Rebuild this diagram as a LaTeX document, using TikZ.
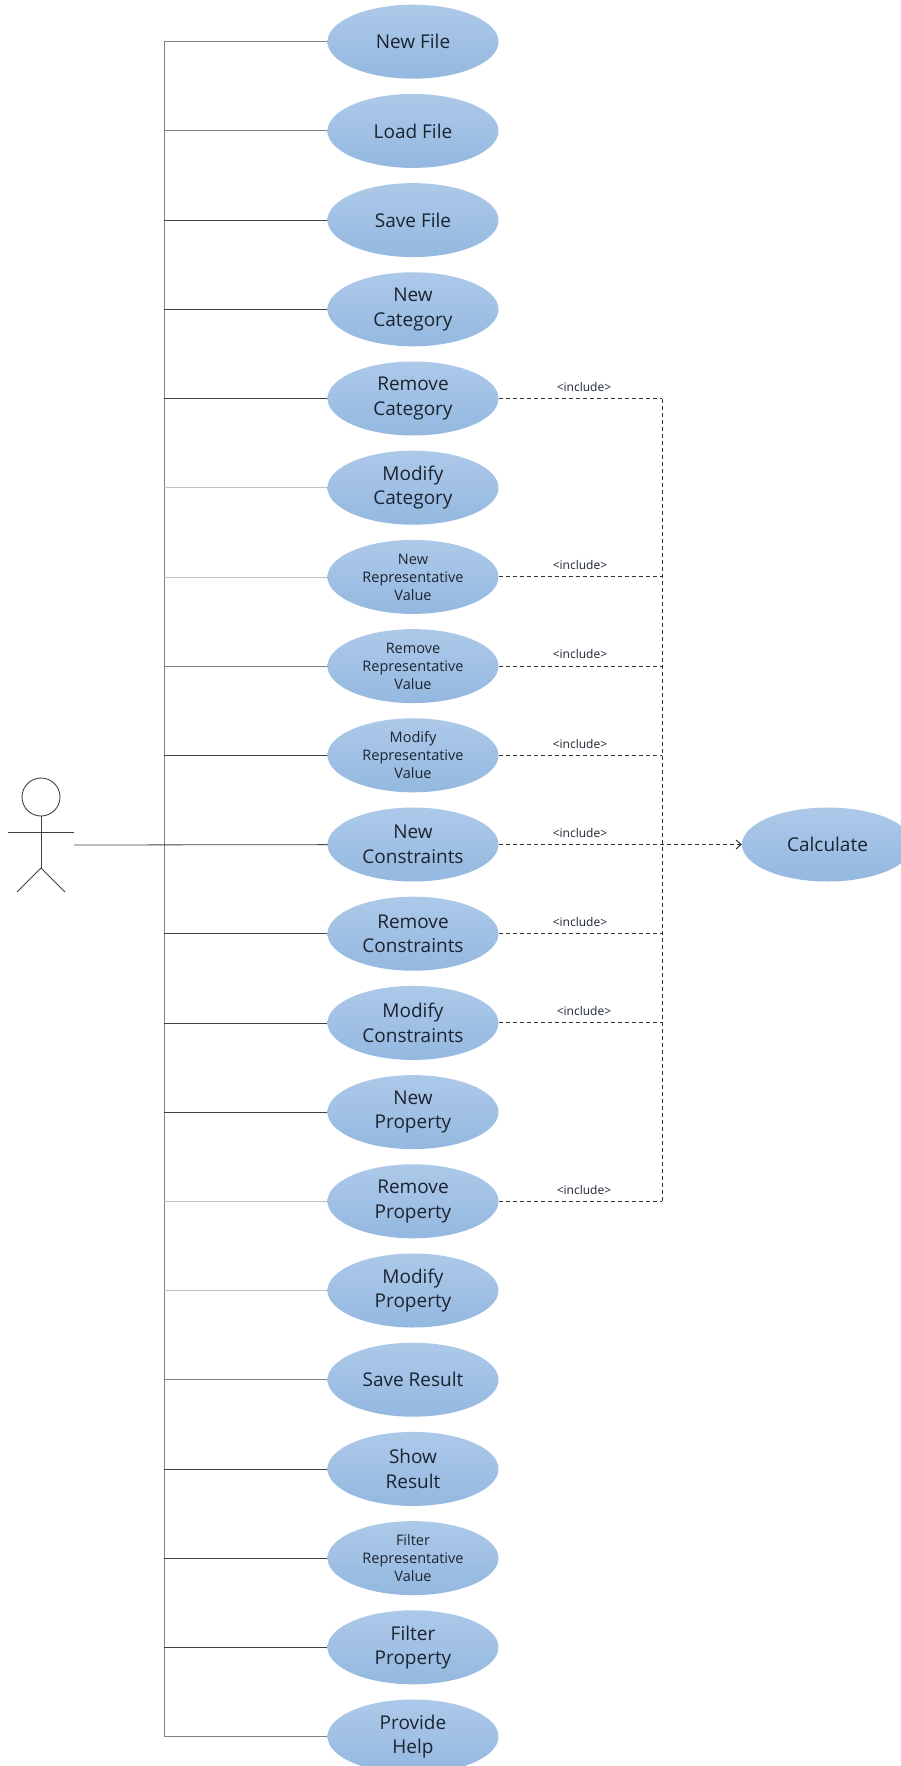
\documentclass[tikz,border=0pt]{standalone}
\usepackage{fontspec}
\setmainfont{Open Sans}
\usetikzlibrary{arrows.meta,shapes.geometric}
\definecolor{usetop}{HTML}{ADC9E9}
\definecolor{usebottom}{HTML}{94B8E0}
\definecolor{usetext}{HTML}{1B2430}
\begin{document}
\begin{tikzpicture}[x=1pt, y=-1pt]
	\tikzstyle{usecase} = [ellipse, minimum width=171pt, minimum height=74pt, inner sep=0pt, align=center, top color=usetop, bottom color=usebottom, text=usetext]
	\tikzstyle{big} = [usecase, font=\fontsize{19}{24.5}\selectfont]
	\tikzstyle{small} = [usecase, font=\fontsize{14.5}{18}\selectfont]
	\tikzstyle{actor} = [draw=black!75, line width=0.9pt]
	\tikzstyle{dark line} = [draw=black!75, line width=0.8pt]
	\tikzstyle{mid line} = [draw=black!50, line width=0.8pt]
	\tikzstyle{pale line} = [draw=black!25, line width=0.8pt]
	\tikzstyle{include} = [draw=black!80, dashed, line width=1pt, dash pattern=on 4pt off 3pt]
	\tikzstyle{stereotype} = [font=\fontsize{12}{14}\selectfont, text=usetext, inner sep=0pt]
	\useasboundingbox (0,0) rectangle (901,1766);
	% use cases
	\node[big](new-file)at (413,41.7){New File};
	\node[big](load-file)at (413,130.9){Load File};
	\node[big](save-file)at (413,220.1){Save File};
	\node[big](new-cat)at (413,309.3){New\\Category};
	\node[big](remove-cat)at (413,398.5){Remove\\Category};
	\node[big](modify-cat)at (413,487.7){Modify\\Category};
	\node[small](new-rep)at (413,576.9){New\\Representative\\Value};
	\node[small](remove-rep)at (413,666.1){Remove\\Representative\\Value};
	\node[small](modify-rep)at (413,755.3){Modify\\Representative\\Value};
	\node[big](new-con)at (413,844.5){New\\Constraints};
	\node[big](remove-con)at (413,933.7){Remove\\Constraints};
	\node[big](modify-con)at (413,1022.9){Modify\\Constraints};
	\node[big](new-prop)at (413,1112.1){New\\Property};
	\node[big](remove-prop)at (413,1201.3){Remove\\Property};
	\node[big](modify-prop)at (413,1290.5){Modify\\Property};
	\node[big](save-res)at (413,1379.7){Save Result};
	\node[big](show-res)at (413,1468.9){Show\\Result};
	\node[small](filter-rep)at (413,1558.1){Filter\\Representative\\Value};
	\node[big](filter-prop)at (413,1647.3){Filter\\Property};
	\node[big](help)at (413,1736.5){Provide\\Help};
	\node[big](calculate)at (827.5,844.5){Calculate};
	% actor
	\node[circle, draw=black!75, line width=0.9pt, minimum size=38pt, inner sep=0pt](head)at (41,797){};
	\coordinate(hip)at (41,868);
	\coordinate(arm-l)at (8,832);
	\coordinate(arm-r)at (74,832);
	\coordinate(foot-l)at (17,892);
	\coordinate(foot-r)at (65,892);
	\coordinate(hand)at (74,845);
	\draw[actor] (head) -- (hip);
	\draw[actor] (arm-l) -- (arm-r);
	\draw[actor] (foot-l) -- (hip) -- (foot-r);
	% trunk
	\coordinate(t1)at (164,41.7);
	\coordinate(t2)at (164,130.9);
	\coordinate(t3)at (164,220.1);
	\coordinate(t4)at (164,309.3);
	\coordinate(t5)at (164,398.5);
	\coordinate(t6)at (164,487.7);
	\coordinate(t7)at (164,576.9);
	\coordinate(t8)at (164,666.1);
	\coordinate(t9)at (164,755.3);
	\coordinate(t11)at (164,933.7);
	\coordinate(t12)at (164,1022.9);
	\coordinate(t13)at (164,1112.1);
	\coordinate(t14)at (164,1201.3);
	\coordinate(t15)at (164,1290.5);
	\coordinate(t16)at (164,1379.7);
	\coordinate(t17)at (164,1468.9);
	\coordinate(t18)at (164,1558.1);
	\coordinate(t19)at (164,1647.3);
	\coordinate(t20)at (164,1736.5);
	\draw[mid line] (t1) -- (t20);
	\path[dark line] (t1) edge[mid line] (new-file)
	(t2) edge[mid line] (load-file)
	(t3) edge (save-file)
	(t4) edge (new-cat)
	(t5) edge (remove-cat)
	(t6) edge[pale line] (modify-cat)
	(t7) edge[pale line] (new-rep)
	(t8) edge[mid line] (remove-rep)
	(t9) edge (modify-rep)
	(hand) edge (new-con)
	(t11) edge (remove-con)
	(t12) edge (modify-con)
	(t13) edge (new-prop)
	(t14) edge[pale line] (remove-prop)
	(t15) edge[pale line] (modify-prop)
	(t16) edge[mid line] (save-res)
	(t17) edge (show-res)
	(t18) edge (filter-rep)
	(t19) edge (filter-prop)
	(t20) edge[mid line] (help);
	% include
	\coordinate(j1)at (662,398.5);
	\coordinate(j2)at (662,576.9);
	\coordinate(j3)at (662,666.1);
	\coordinate(j4)at (662,755.3);
	\coordinate(j5)at (662,933.7);
	\coordinate(j6)at (662,1022.9);
	\coordinate(j7)at (662,1201.3);
	\draw[include] (j1) -- (j7);
	\path[include] (remove-cat) edge (j1)
	(new-rep) edge (j2)
	(remove-rep) edge (j3)
	(modify-rep) edge (j4)
	(remove-con) edge (j5)
	(modify-con) edge (j6)
	(remove-prop) edge (j7);
	\draw[include, -{Straight Barb[length=5pt, width=9pt]}] (new-con) -- (calculate);
	\node[stereotype](inc1)at (584,387){<include>};
	\node[stereotype](inc2)at (580,565){<include>};
	\node[stereotype](inc3)at (580,654){<include>};
	\node[stereotype](inc4)at (580,744){<include>};
	\node[stereotype](inc5)at (580,833){<include>};
	\node[stereotype](inc6)at (580,922){<include>};
	\node[stereotype](inc7)at (584,1011){<include>};
	\node[stereotype](inc8)at (584,1190){<include>};
\end{tikzpicture}
\end{document}
